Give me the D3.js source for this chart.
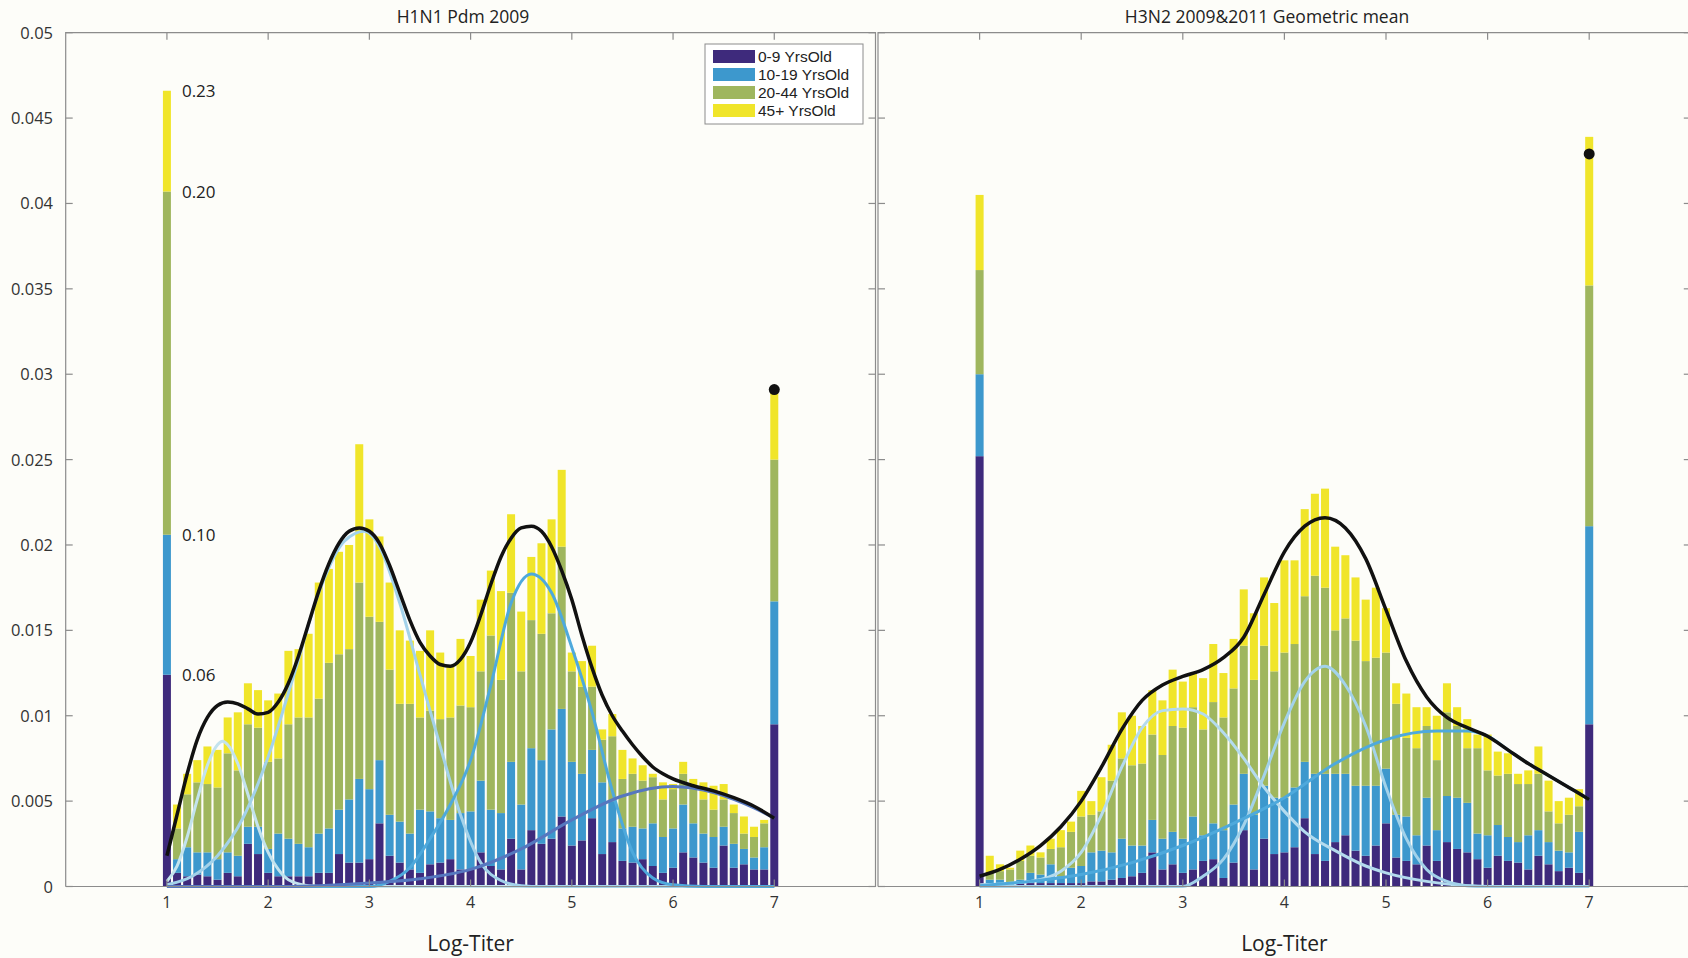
<!DOCTYPE html>
<meta charset="utf-8">
<script src="https://d3js.org/d3.v7.min.js"></script>
<style>
  body { margin: 0; background: #fdfdf9; }
  svg { font-family: "Open Sans", "Noto Sans", sans-serif; }
</style>
<div id="chart"></div>
<script>

// titer bins 1.0 .. 7.0, step 0.1
var bins = d3.range(10, 71).map(function(i){ return i / 10; });
var groups = ["kids", "teens", "adults", "older"];
var groupNames = ["0-9 YrsOld", "10-19 YrsOld", "20-44 YrsOld", "45+ YrsOld"];
var groupColors = ["#3e2a7c", "#3d98cd", "#9fb65e", "#f0e52a"];
var yTicks = [0, 0.005, 0.01, 0.015, 0.02, 0.025, 0.03, 0.035, 0.04, 0.045, 0.05];
var xTicks = [1, 2, 3, 4, 5, 6, 7];

// ---- H1N1 Pdm 2009 (values x 1e-3, first bar drawn at 1/5 scale) ----
var h1Kids   = [12.4,0.8,0.6,0.7,0.6,0.4,0.8,0.6,2.5,1.9,0.8,0.6,0.6,0.6,0.6,0.8,0.8,1.9,1.4,1.4,1.6,3.7,1.8,1.4,1.0,0.8,1.3,1.4,1.6,1.0,1.0,2.0,1.2,1.0,2.8,1.0,3.3,2.5,2.8,4.1,2.4,2.7,4.0,1.9,2.6,1.5,1.4,1.6,1.2,0.8,1.1,2.0,1.7,1.4,1.1,2.4,1.1,1.3,1.0,1.0,9.5];
var h1Teens  = [8.2,0.8,1.7,1.3,1.4,1.2,1.2,1.2,1.0,1.6,1.4,2.5,2.2,1.9,1.7,2.3,2.6,2.6,3.7,4.9,4.1,3.7,2.4,2.4,2.1,3.7,3.1,2.6,2.3,3.3,3.4,4.2,3.3,3.3,4.5,3.8,4.8,4.9,6.4,6.3,4.9,3.9,4.0,4.2,2.4,1.9,2.1,1.8,2.5,2.1,2.3,2.8,2.0,1.7,1.8,1.1,1.4,0.9,0.7,1.3,7.2];
var h1Adults = [20.1,1.8,3.1,4.1,4.0,4.2,5.8,5.0,6.0,5.8,5.1,4.4,6.7,7.4,7.6,7.9,9.7,9.1,8.8,11.5,10.1,8.1,8.5,6.9,7.6,5.4,5.9,5.8,6.0,6.3,6.1,6.4,10.2,7.8,9.9,7.8,7.5,7.4,6.8,9.5,5.3,5.1,3.7,2.5,3.8,2.9,3.1,2.8,2.7,2.2,2.3,1.8,2.0,2.0,1.6,1.6,1.8,0.9,1.2,1.4,8.3];
var h1Older  = [5.9,1.4,1.2,1.3,2.2,2.2,2.1,3.4,2.4,2.2,3.6,3.8,4.3,4.0,4.9,6.8,5.5,6.0,6.1,8.1,5.7,5.0,5.1,4.3,3.7,3.9,4.7,3.9,3.0,3.9,3.0,4.2,3.8,5.2,4.6,3.5,3.7,5.3,5.5,4.5,1.1,1.5,2.4,0.6,1.3,1.7,0.9,0.9,0.2,1.0,0.3,0.7,0.6,1.0,1.4,0.9,0.5,1.0,0.6,0.2,3.9];
var h1FirstLabels = ["0.06", "0.10", "0.20", "0.23"];
var h1Dot = 29.1;

// fitted curves, [titer, density x 1e-3]
var h1Total = [[1.0,1.8],[1.1,4.2],[1.2,6.6],[1.3,8.6],[1.4,9.9],[1.5,10.6],[1.6,10.8],[1.7,10.7],[1.8,10.4],[1.9,10.1],[2.0,10.2],[2.1,10.8],[2.2,11.9],[2.3,13.5],[2.4,15.4],[2.5,17.3],[2.6,18.9],[2.7,20.1],[2.8,20.8],[2.9,21.0],[3.0,20.8],[3.1,20.1],[3.2,18.8],[3.3,17.2],[3.4,15.6],[3.5,14.3],[3.6,13.5],[3.7,13.0],[3.8,12.9],[3.9,13.3],[4.0,14.3],[4.1,15.9],[4.2,17.7],[4.3,19.3],[4.4,20.4],[4.5,21.0],[4.6,21.1],[4.7,20.8],[4.8,19.9],[4.9,18.5],[5.0,16.8],[5.1,14.7],[5.2,12.8],[5.3,11.2],[5.4,10.0],[5.5,9.1],[5.6,8.3],[5.7,7.6],[5.8,7.0],[5.9,6.6],[6.0,6.3],[6.2,5.9],[6.4,5.6],[6.6,5.2],[6.8,4.7],[7.0,4.0]];
var h1Comp1 = [[1.0,0.3],[1.1,1.2],[1.2,2.9],[1.3,5.1],[1.4,7.1],[1.5,8.3],[1.55,8.5],[1.6,8.3],[1.7,7.2],[1.8,5.4],[1.9,3.5],[2.0,2.0],[2.1,1.0],[2.2,0.4],[2.4,0.05],[2.6,0],[7.0,0]];
var h1Comp2 = [[1.0,0.1],[1.25,0.6],[1.5,1.8],[1.75,4.0],[2.0,7.6],[2.25,12.3],[2.5,17.2],[2.75,20.2],[2.95,20.8],[3.1,19.9],[3.3,16.6],[3.5,12.4],[3.7,8.2],[3.9,4.2],[4.1,1.4],[4.3,0.35],[4.5,0.05],[4.7,0],[7.0,0]];
var h1Comp3 = [[1.0,0],[3.0,0],[3.2,0.3],[3.4,1.1],[3.6,2.8],[3.8,4.8],[4.0,7.4],[4.2,11.8],[4.4,16.6],[4.6,18.3],[4.8,17.2],[5.0,14.0],[5.2,10.2],[5.4,5.6],[5.6,2.0],[5.8,0.5],[6.0,0.1],[6.3,0],[7.0,0]];
var h1Comp4 = [[1.0,0],[2.0,0],[2.5,0.05],[3.0,0.2],[3.5,0.45],[4.0,1.0],[4.5,2.2],[5.0,3.9],[5.5,5.3],[6.0,5.85],[6.2,5.75],[6.4,5.5],[6.6,5.1],[6.8,4.6],[7.0,4.0]];

// ---- H3N2 2009&2011 geometric mean ----
var h3Kids   = [25.2,0.1,0.2,0.1,0.2,0.2,0.2,0.2,0.2,0.2,0.2,0.3,0.3,0.4,0.5,0.6,0.8,2.0,1.0,1.3,0.8,1.0,1.5,1.6,0.5,1.4,3.3,1.0,2.8,1.9,2.0,2.3,4.0,1.9,1.5,2.6,3.0,2.1,1.8,2.4,3.7,1.7,1.5,1.3,2.4,1.5,2.6,2.2,2.0,1.6,1.1,1.8,1.5,1.4,1.0,1.8,1.3,0.9,1.1,0.8,9.5];
var h3Teens  = [4.8,0.3,0.2,0.1,0.2,0.6,0.5,1.1,0.4,0.9,1.0,1.7,1.8,1.6,2.3,1.8,1.6,1.9,1.8,1.9,2.0,3.1,1.5,2.1,2.8,3.4,3.3,3.2,3.1,3.3,3.2,3.5,3.3,4.7,5.1,4.0,3.6,3.8,4.1,3.5,3.2,2.5,2.6,1.7,2.8,1.8,2.7,3.0,2.9,1.5,1.9,1.8,1.4,1.2,2.0,1.5,1.3,1.2,0.9,2.4,11.6];
var h3Adults = [6.1,0.4,0.5,0.8,1.1,1.0,1.0,0.9,1.7,2.1,2.9,2.2,2.3,4.2,4.7,4.7,4.8,5.0,4.9,6.2,6.5,6.4,6.2,7.1,6.6,6.8,7.5,7.9,8.2,7.4,8.5,8.4,9.7,11.6,10.9,8.4,9.1,8.5,7.3,7.5,6.8,6.5,4.6,5.1,4.2,4.1,4.9,4.2,3.2,5.0,3.8,2.9,3.7,3.4,3.0,3.3,1.8,1.6,2.2,1.5,14.1];
var h3Older  = [4.4,1.0,0.4,0.1,0.6,0.6,0.3,0.6,1.0,0.6,1.5,0.8,2.0,2.1,2.7,2.9,2.2,2.6,3.2,3.3,2.7,2.0,3.0,3.4,2.6,2.9,3.3,3.9,4.0,4.0,5.4,4.9,5.1,4.8,5.8,4.9,3.7,3.7,3.6,4.1,2.6,1.2,2.6,2.4,1.1,2.6,1.7,1.1,1.7,0.8,2.1,1.4,1.2,0.6,0.8,1.6,1.8,1.3,1.0,1.0,8.7];
var h3Dot = 42.9;

var h3Total = [[1.0,0.6],[1.2,1.0],[1.4,1.6],[1.6,2.4],[1.8,3.5],[2.0,5.0],[2.2,7.0],[2.4,9.2],[2.6,10.9],[2.8,11.8],[3.0,12.3],[3.2,12.7],[3.4,13.4],[3.6,14.6],[3.8,17.1],[4.0,19.6],[4.2,21.1],[4.4,21.6],[4.6,21.0],[4.8,19.2],[5.0,16.2],[5.2,13.2],[5.4,11.1],[5.6,9.9],[5.8,9.3],[6.0,8.8],[6.2,8.0],[6.4,7.2],[6.6,6.5],[6.8,5.8],[7.0,5.1]];
var h3Comp1 = [[1.0,0.1],[1.5,0.3],[1.8,0.9],[2.0,2.0],[2.2,4.2],[2.4,7.0],[2.6,9.3],[2.8,10.3],[3.0,10.4],[3.2,10.1],[3.4,9.0],[3.6,7.5],[3.8,5.8],[4.0,4.4],[4.2,3.2],[4.5,2.1],[4.8,1.2],[5.0,0.8],[5.4,0.3],[5.8,0.05],[6.2,0],[7.0,0]];
var h3Comp2 = [[1.0,0],[3.0,0],[3.2,0.6],[3.4,1.6],[3.6,3.6],[3.8,6.5],[4.0,9.6],[4.2,12.0],[4.4,12.9],[4.6,11.8],[4.8,9.4],[5.0,5.8],[5.2,2.8],[5.4,1.0],[5.6,0.3],[5.8,0.05],[6.0,0],[7.0,0]];
var h3Comp3 = [[1.0,0.05],[1.5,0.3],[2.0,0.7],[2.5,1.4],[3.0,2.4],[3.5,3.7],[4.0,5.2],[4.5,7.2],[5.0,8.6],[5.5,9.1],[5.8,9.1],[6.0,8.8],[6.2,8.0],[6.4,7.2],[6.6,6.5],[6.8,5.8],[7.0,5.1]];

var W = 1688, H = 958;
var svg = d3.select("#chart").append("svg")
  .attr("width", W).attr("height", H);
svg.append("rect").attr("width", W).attr("height", H).attr("fill", "#fdfdf9");

var y = d3.scaleLinear().domain([0, 0.05]).range([886.5, 32.7]);

function rows(a, b, c, d) {
  return bins.map(function(t, i) {
    return { titer: t, kids: a[i] / 1000, teens: b[i] / 1000, adults: c[i] / 1000, older: d[i] / 1000 };
  });
}

function drawPanel(p) {
  var x = d3.scaleLinear().domain([0, 8]).range(p.range);
  var g = svg.append("g");
  var bw = x(0.079) - x(0);

  var stacked = d3.stack().keys(groups)(p.data);
  g.selectAll("g.layer")
    .data(stacked)
    .enter().append("g")
      .attr("fill", function(d, i){ return groupColors[i]; })
    .selectAll("rect")
    .data(function(d){ return d; })
    .enter().append("rect")
      .attr("x", function(d){ return x(d.data.titer) - bw / 2; })
      .attr("width", bw)
      .attr("y", function(d){ return y(d[1]); })
      .attr("height", function(d){ return y(d[0]) - y(d[1]); });

  var line = d3.line()
    .x(function(d){ return x(d[0]); })
    .y(function(d){ return y(d[1] / 1000); })
    .curve(d3.curveMonotoneX);

  p.curves.forEach(function(c) {
    g.append("path")
      .attr("d", line(c.pts))
      .attr("fill", "none")
      .attr("stroke", c.color)
      .attr("stroke-width", c.w)
      .attr("stroke-linejoin", "round");
  });

  g.append("circle")
    .attr("cx", x(7)).attr("cy", y(p.dot / 1000)).attr("r", 5.5)
    .attr("fill", "#111");

  // frame with inward ticks
  var x0 = x(0), x1 = x(8), y0 = y(0), y1 = y(0.05);
  var frame = g.append("g").attr("stroke", "#8c8c8c").attr("stroke-width", 1.2).attr("fill", "none");
  frame.append("path").attr("d", "M" + x0 + "," + y0 + "V" + y1 + "H" + x1 + "V" + y0 + "H" + x0);
  yTicks.forEach(function(t) {
    frame.append("line").attr("x1", x0).attr("x2", x0 + 7).attr("y1", y(t)).attr("y2", y(t));
    frame.append("line").attr("x1", x1).attr("x2", x1 - 7).attr("y1", y(t)).attr("y2", y(t));
  });
  xTicks.forEach(function(t) {
    frame.append("line").attr("x1", x(t)).attr("x2", x(t)).attr("y1", y1).attr("y2", y1 + 7);
    frame.append("line").attr("x1", x(t)).attr("x2", x(t)).attr("y1", y0).attr("y2", y0 - 7);
  });

  g.selectAll("text.xt")
    .data(xTicks)
    .enter().append("text")
      .attr("x", function(d){ return x(d); })
      .attr("y", 908)
      .attr("text-anchor", "middle")
      .attr("font-size", 16)
      .attr("fill", "#333")
      .text(function(d){ return d; });

  if (p.yLabels) {
    g.selectAll("text.yt")
      .data(yTicks)
      .enter().append("text")
        .attr("x", 53)
        .attr("y", function(d){ return y(d) + 6; })
        .attr("text-anchor", "end")
        .attr("font-size", 16.5)
        .attr("fill", "#333")
        .text(function(d){ return String(d); });
  }

  g.append("text")
    .attr("x", p.titleX).attr("y", 23)
    .attr("text-anchor", "middle")
    .attr("font-size", 17.5)
    .attr("fill", "#222")
    .text(p.title);

  g.append("text")
    .attr("x", (x0 + x1) / 2).attr("y", 951)
    .attr("text-anchor", "middle")
    .attr("font-size", 21)
    .attr("fill", "#222")
    .text("Log-Titer");

  return x;
}

var xl = drawPanel({
  range: [65.7, 875.5],
  data: rows(h1Kids, h1Teens, h1Adults, h1Older),
  dot: h1Dot,
  yLabels: true,
  title: "H1N1 Pdm 2009",
  titleX: 463,
  curves: [
    { pts: h1Comp1, color: "#c3e3ee", w: 3 },
    { pts: h1Comp2, color: "#a3d2ea", w: 3 },
    { pts: h1Comp3, color: "#4ea9dc", w: 3 },
    { pts: h1Comp4, color: "#5677bf", w: 3 },
    { pts: h1Total, color: "#111111", w: 3.5 }
  ]
});

drawPanel({
  range: [878, 1690.8],
  data: rows(h3Kids, h3Teens, h3Adults, h3Older),
  dot: h3Dot,
  yLabels: false,
  title: "H3N2 2009&2011 Geometric mean",
  titleX: 1267,
  curves: [
    { pts: h3Comp1, color: "#b4dbee", w: 3 },
    { pts: h3Comp2, color: "#a3d2ea", w: 3 },
    { pts: h3Comp3, color: "#4ea9dc", w: 3 },
    { pts: h3Total, color: "#111111", w: 3.5 }
  ]
});

// cumulative labels on the truncated first bar
var firstCum = d3.cumsum([h1Kids[0], h1Teens[0], h1Adults[0], h1Older[0]]);
svg.selectAll("text.cum")
  .data(h1FirstLabels)
  .enter().append("text")
    .attr("x", xl(1) + 15)
    .attr("y", function(d, i){ return y(firstCum[i] / 1000) + 6; })
    .attr("font-size", 17)
    .attr("fill", "#222")
    .text(function(d){ return d; });

// legend
var leg = svg.append("g").attr("transform", "translate(705,44)");
leg.append("rect").attr("width", 158).attr("height", 80)
  .attr("fill", "#ffffff").attr("stroke", "#8c8c8c").attr("stroke-width", 1);
groupNames.forEach(function(n, i) {
  leg.append("rect").attr("x", 8).attr("y", 6 + i * 18).attr("width", 42).attr("height", 13)
    .attr("fill", groupColors[i]);
  leg.append("text").attr("x", 53).attr("y", 18 + i * 18)
    .attr("font-family", "'Liberation Sans', Arial, sans-serif")
    .attr("font-size", 15.5).attr("fill", "#222").text(n);
});

</script>
